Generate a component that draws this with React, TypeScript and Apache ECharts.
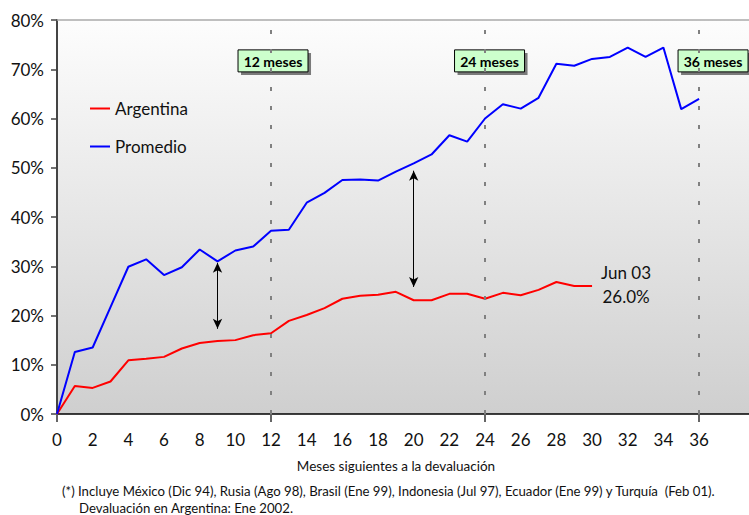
import React, { useEffect, useRef } from "react";
import * as echarts from "echarts";

// Months after devaluation
const months = [0, 1, 2, 3, 4, 5, 6, 7, 8, 9, 10, 11, 12, 13, 14, 15, 16, 17, 18, 19, 20, 21, 22, 23, 24, 25, 26, 27, 28, 29, 30, 31, 32, 33, 34, 35, 36];
// Cumulative % values
const promedio = [0, 12.6, 13.5, 21.7, 29.9, 31.4, 28.2, 29.8, 33.4, 31.0, 33.2, 34.0, 37.2, 37.4, 42.9, 44.9, 47.5, 47.6, 47.4, 49.2, 50.9, 52.7, 56.6, 55.3, 60.0, 62.9, 62.0, 64.2, 71.1, 70.7, 72.1, 72.5, 74.4, 72.5, 74.4, 61.9, 64.0];
const argentina = [0, 5.7, 5.3, 6.6, 10.9, 11.2, 11.6, 13.3, 14.4, 14.8, 15.0, 16.0, 16.4, 18.9, 20.1, 21.5, 23.4, 24.0, 24.2, 24.8, 23.1, 23.1, 24.4, 24.4, 23.4, 24.6, 24.1, 25.2, 26.8, 26.0, 26.0];

const xTickLabels = [0, 2, 4, 6, 8, 10, 12, 14, 16, 18, 20, 22, 24, 26, 28, 30, 32, 34, 36];
const milestones = [12, 24, 36];
const milestoneLabels = ["12 meses", "24 meses", "36 meses"];
const milestoneLevel = 71.7;
// gap arrows: month, top value, bottom value
const gapArrowMonths = [9, 20];
const gapArrowTop = [30.7, 49.4];
const gapArrowBottom = [17.3, 25.8];

const lastLabel = "Jun 03\n26.0%";
const xTitle = "Meses siguientes a la devaluación";
const note1 = "(*) Incluye México (Dic 94), Rusia (Ago 98), Brasil (Ene 99), Indonesia (Jul 97), Ecuador (Ene 99) y Turquía  (Feb 01).";
const note2 = "Devaluación en Argentina: Ene 2002.";

const FONT = "Lato, 'Open Sans', sans-serif";

export default function App() {
  const ref = useRef<HTMLDivElement>(null);
  useEffect(() => {
    if (!ref.current) return;
    const chart = echarts.init(ref.current, undefined, { renderer: "svg" });
    const argData = argentina.map((v, i) => [months[i], v]);
    const proData = promedio.map((v, i) => [months[i], v]);
    const option: any = {
      animation: false,
      textStyle: { fontFamily: FONT },
      grid: {
        left: 57,
        right: 0,
        top: 20,
        bottom: 101,
        show: true,
        borderWidth: 0,
        backgroundColor: new echarts.graphic.LinearGradient(0, 0, 0, 1, [
          { offset: 0, color: "#fdfdfd" },
          { offset: 1, color: "#cfcfcf" },
        ]),
      },
      legend: {
        orient: "vertical",
        left: 85,
        top: 95,
        icon: "rect",
        itemWidth: 20,
        itemHeight: 2,
        itemGap: 21,
        textStyle: { fontSize: 17, color: "#111", fontFamily: FONT },
        data: ["Argentina", "Promedio"],
      },
      xAxis: [
        {
          type: "value",
          min: 0,
          max: 38.8,
          interval: 2,
          axisLine: { show: true, lineStyle: { color: "#000", width: 1.5 } },
          axisTick: { show: true, customValues: [0, 12, 24, 36], length: 8, lineStyle: { color: "#666", width: 2 } },
          axisLabel: { customValues: xTickLabels, fontSize: 17, color: "#111", margin: 17, fontFamily: FONT },
          splitLine: { show: false },
        },
        {
          type: "value",
          position: "top",
          min: 0,
          max: 38.8,
          axisLine: { show: true, lineStyle: { color: "#aaa", width: 1.5 } },
          axisTick: { show: false },
          axisLabel: { show: false },
          splitLine: { show: false },
        },
      ],
      yAxis: {
        type: "value",
        min: 0,
        max: 80,
        interval: 10,
        axisLine: { show: true, lineStyle: { color: "#444", width: 2 } },
        axisTick: { show: true, length: 6, lineStyle: { color: "#444", width: 1.5 } },
        axisLabel: { formatter: "{value}%", fontSize: 17, color: "#111", margin: 13, fontFamily: FONT },
        splitLine: { show: false },
      },
      series: [
        {
          name: "Argentina",
          type: "line",
          data: argData,
          symbol: "none",
          lineStyle: { color: "#ff0000", width: 2 },
          itemStyle: { color: "#ff0000" },
          z: 3,
          markPoint: {
            symbol: "circle",
            symbolSize: 1,
            itemStyle: { color: "rgba(0,0,0,0)" },
            data: [
              {
                coord: [months[argentina.length - 1], argentina[argentina.length - 1]],
                label: {
                  show: true,
                  formatter: lastLabel,
                  position: "inside",
                  offset: [34, -1],
                  align: "center",
                  fontSize: 17,
                  lineHeight: 24,
                  color: "#111",
                  fontFamily: FONT,
                },
              },
            ],
          },
          markLine: {
            silent: true,
            symbol: ["arrow", "arrow"],
            symbolSize: [7, 10],
            label: { show: false },
            lineStyle: { color: "#000", width: 1, type: "solid" },
            data: gapArrowMonths.map((m, i) => [
              { coord: [m, gapArrowTop[i]] },
              { coord: [m, gapArrowBottom[i]] },
            ]),
          },
        },
        {
          name: "Promedio",
          type: "line",
          data: proData,
          symbol: "none",
          lineStyle: { color: "#0000ff", width: 2 },
          itemStyle: { color: "#0000ff" },
          z: 3,
          markLine: {
            silent: true,
            symbol: "none",
            label: { show: false },
            lineStyle: { color: "#808080", width: 2, type: [4, 15] },
            data: milestones.map((m) => ({ xAxis: m })),
          },
        },
      ],
    };
    chart.setOption(option);

    const offsets = [2, 4.5, 14];
    const boxes = milestones.map((m, i) => {
      const p = chart.convertToPixel({ gridIndex: 0 }, [m, milestoneLevel]) as number[];
      const w = 70;
      const h = 22;
      const x = p[0] + offsets[i] - w / 2;
      const y = p[1] - h / 2;
      return {
        type: "group",
        children: [
          { type: "rect", shape: { x: x + 3, y: y + 3, width: w, height: h }, style: { fill: "#7a7a7a" } },
          { type: "rect", shape: { x, y, width: w, height: h }, style: { fill: "#ccffcc", stroke: "#000", lineWidth: 1 } },
          {
            type: "text",
            x: x + w / 2,
            y: y + h / 2 + 0.5,
            style: { text: milestoneLabels[i], fill: "#000", font: `bold 14px ${FONT}`, align: "center", verticalAlign: "middle" },
          },
        ],
      };
    });

    chart.setOption({
      graphic: [
        ...boxes,
        {
          type: "text",
          x: 396,
          y: 466,
          style: { text: xTitle, fill: "#111", font: `13.5px ${FONT}`, align: "center", verticalAlign: "middle" },
        },
        {
          type: "text",
          x: 62,
          y: 491,
          style: { text: note1, fill: "#111", font: `13.2px ${FONT}`, align: "left", verticalAlign: "middle" },
        },
        {
          type: "text",
          x: 79,
          y: 507.5,
          style: { text: note2, fill: "#111", font: `13.2px ${FONT}`, align: "left", verticalAlign: "middle" },
        },
      ],
    });

    return () => chart.dispose();
  }, []);
  return <div ref={ref} style={{ width: 749, height: 515, position: "absolute", left: 0, top: 0 }} />;
}
